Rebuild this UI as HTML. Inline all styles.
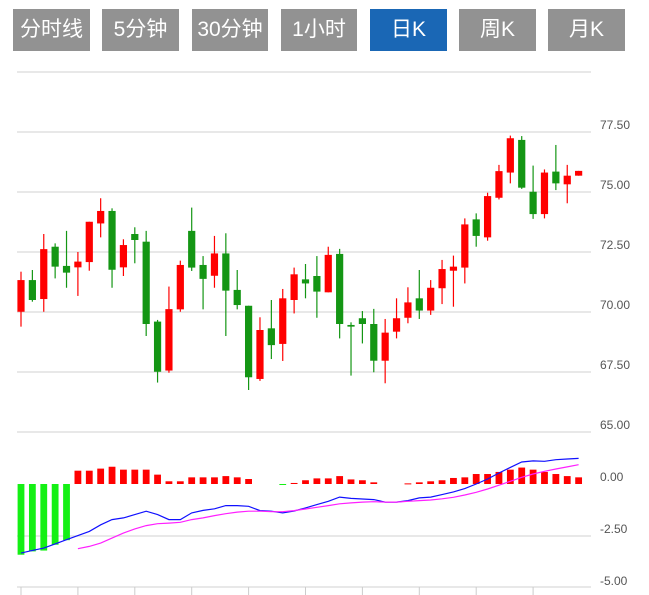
<!DOCTYPE html>
<html><head><meta charset="utf-8">
<style>
body{margin:0;background:#fff;width:649px;height:595px;overflow:hidden;font-family:"Liberation Sans","Noto Sans CJK SC",sans-serif}
.btn{position:absolute;top:9px;height:42px;background:#929292;color:#fff;font-size:21px;line-height:42px;text-align:center;font-family:"Liberation Sans","Noto Sans CJK SC",sans-serif}
.btn.active{background:#1a67b5}
svg{position:absolute;left:0;top:0}
</style></head><body>
<div class="btn" style="left:13px;width:77px">分时线</div>
<div class="btn" style="left:102px;width:77px">5分钟</div>
<div class="btn" style="left:192px;width:76px">30分钟</div>
<div class="btn" style="left:281px;width:76px">1小时</div>
<div class="btn active" style="left:370px;width:77px">日K</div>
<div class="btn" style="left:459px;width:77px">周K</div>
<div class="btn" style="left:548px;width:77px">月K</div>
<svg id="chart" width="649" height="595"></svg>
<script>
const opens=[70.01,71.33,70.54,72.72,71.92,71.86,72.08,73.69,74.21,71.86,73.25,72.93,69.6,67.56,70.11,73.38,71.96,71.51,72.44,70.92,70.26,67.21,69.32,68.67,70.5,71.36,71.5,70.82,72.42,69.46,69.74,69.5,67.97,69.18,69.76,70.57,70.06,70.99,71.72,71.85,73.86,73.11,74.76,75.81,77.17,75.01,74.08,75.85,75.32,75.68];
const closes=[71.33,70.5,72.62,71.89,71.64,72.1,73.76,74.21,71.76,72.79,73.0,69.5,67.51,70.12,71.96,71.85,71.38,72.44,70.89,70.29,67.28,69.25,68.62,70.57,71.57,71.19,70.85,72.38,69.5,69.39,69.5,67.97,69.14,69.74,70.4,70.06,71.01,71.79,71.89,73.65,73.17,74.83,75.87,77.24,75.18,74.08,75.81,75.36,75.68,75.88];
const highs=[71.68,71.75,73.25,72.86,73.38,72.5,73.76,74.74,74.32,73.03,73.53,73.38,69.67,71.06,72.14,74.35,72.33,73.17,73.28,71.75,70.26,69.78,70.5,70.96,71.85,72.0,72.33,72.72,72.63,69.57,70.04,70.13,69.71,70.57,71.03,71.75,71.33,72.17,72.35,73.9,74.11,74.97,76.13,77.35,77.33,76.1,75.94,76.96,76.13,75.88];
const lows=[69.39,70.43,70.01,71.4,71.01,70.67,71.72,73.11,71.01,71.5,72.03,69.0,67.06,67.47,70.01,71.71,70.11,71.01,69.0,70.11,66.75,67.13,68.04,67.96,69.94,70.57,69.76,70.82,68.9,67.35,68.69,67.49,67.03,68.9,69.53,69.71,69.88,70.33,70.22,71.19,72.72,72.97,74.69,75.36,75.13,73.88,73.9,75.08,74.53,75.68];
const hist=[-3.4,-3.24,-3.2,-2.92,-2.7,0.64,0.64,0.74,0.83,0.69,0.69,0.69,0.45,0.13,0.13,0.32,0.32,0.32,0.38,0.32,0.24,0,0,-0.03,0.05,0.18,0.27,0.27,0.38,0.22,0.18,0.08,0,0,0.03,0.08,0.13,0.18,0.29,0.32,0.48,0.48,0.58,0.69,0.79,0.69,0.58,0.48,0.38,0.32];
const dif=[-3.32,-3.19,-3.08,-2.88,-2.68,-2.48,-2.28,-1.96,-1.71,-1.63,-1.47,-1.31,-1.47,-1.71,-1.71,-1.39,-1.27,-1.19,-1.04,-1.04,-1.07,-1.28,-1.31,-1.39,-1.3,-1.15,-0.99,-0.83,-0.63,-0.69,-0.72,-0.75,-0.87,-0.87,-0.8,-0.67,-0.63,-0.51,-0.38,-0.22,0,0.24,0.53,0.8,1.06,1.11,1.09,1.17,1.2,1.23];
const dea=[null,null,null,null,null,-3.11,-3.0,-2.84,-2.6,-2.36,-2.16,-2.0,-1.91,-1.88,-1.84,-1.71,-1.63,-1.52,-1.43,-1.35,-1.31,-1.31,-1.33,-1.33,-1.28,-1.2,-1.12,-1.04,-0.95,-0.91,-0.87,-0.85,-0.87,-0.87,-0.83,-0.8,-0.77,-0.71,-0.64,-0.53,-0.4,-0.24,-0.06,0.13,0.32,0.48,0.61,0.72,0.82,0.93];
const priceTicks=[77.5,75,72.5,70,67.5,65];
const macdTicks=[0,-2.5,-5];

const svg=document.getElementById('chart');
const NS='http://www.w3.org/2000/svg';
const X=i=>21+i*11.38;
const PY=v=>132+(77.5-v)*24;
const MY=v=>484+(0-v)*20.8;
function mk(t,a){const e=document.createElementNS(NS,t);for(const k in a)e.setAttribute(k,a[k]);svg.appendChild(e);return e;}
// grid
[72,132,192,252,312,372,432,536].forEach(y=>{const g=mk('line',{x1:17,x2:591,y1:y,y2:y,stroke:'#e0e0e0','stroke-width':1.5});

});
const bl=mk('line',{x1:17,x2:591,y1:587,y2:587,stroke:'#e0e0e0','stroke-width':1.5});


for(let i=0;i<50;i+=5){const t=mk('line',{x1:X(i),x2:X(i),y1:587,y2:595,stroke:'#ccc','stroke-width':1});

}
priceTicks.forEach(v=>{const t=mk('text',{x:600,y:PY(v)-3,'font-size':12,fill:'#555','font-family':'Liberation Sans, sans-serif'});t.textContent=v.toFixed(2);

});
macdTicks.forEach(v=>{const t=mk('text',{x:600,y:MY(v)-3,'font-size':12,fill:'#555','font-family':'Liberation Sans, sans-serif'});t.textContent=v.toFixed(2);

});
// candles
for(let i=0;i<opens.length;i++){
 const up=closes[i]>=opens[i];const c=up?'#ff0000':'#149614';
 const w=mk('line',{x1:X(i),x2:X(i),y1:PY(highs[i]),y2:PY(lows[i]),stroke:c,'stroke-width':1.2});
 
 
 const top=PY(Math.max(opens[i],closes[i])),bot=PY(Math.min(opens[i],closes[i]));
 const b=mk('rect',{x:X(i)-3.6,y:top,width:7.2,height:Math.max(bot-top,1.5),fill:c});
 
 
}
// macd histogram
for(let i=0;i<hist.length;i++){
 const v=hist[i];if(Math.abs(v)<0.005)continue;
 const y0=MY(0),y1=MY(v);
 const r=mk('rect',{x:X(i)-3.4,y:Math.min(y0,y1),width:6.8,height:Math.max(Math.abs(y1-y0),1),fill:v>=0?'#ff0000':'#14f014'});
 
 
}
function line(arr,color,name){let d='';arr.forEach((v,i)=>{if(v===null)return;d+=(d?'L':'M')+X(i).toFixed(1)+' '+MY(v).toFixed(1);});
 const p=mk('path',{d:d,fill:'none',stroke:color,'stroke-width':1.2});
 
 }
line(dif,'#1010ff','dif-line');
line(dea,'#ff20ff','dea-line');
</script>
</body></html>
